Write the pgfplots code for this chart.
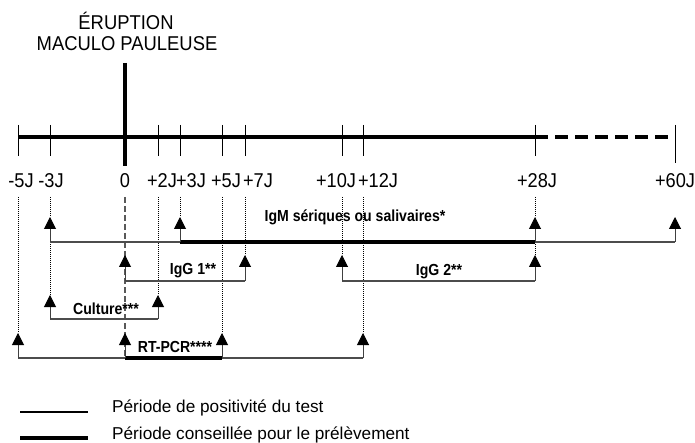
\documentclass[border=0pt]{standalone}
\usepackage{pgfplots}
\pgfplotsset{compat=1.18}
\usepackage{graphicx}
\usepackage{fontspec}
\setmainfont{Liberation Sans}
\usetikzlibrary{arrows.meta}
\tikzset{
  thinl/.style={black!70,line width=1.1pt},
  thickl/.style={black,line width=4pt},
  arr/.style={black!75,line width=1pt,-{Triangle[length=12pt,width=12pt,color=black]}},
  dotl/.style={black,line width=0.8pt,dash pattern=on 0.9pt off 1.1pt},
  tk/.style={black,line width=1pt},
  lab/.style={anchor=base,inner sep=0pt,font=\fontsize{20}{24}\selectfont},
  blab/.style={anchor=base,inner sep=0pt,font=\fontsize{16}{19}\selectfont\bfseries},
  leg/.style={anchor=base west,inner sep=0pt,font=\fontsize{17.2}{20}\selectfont},
}
\begin{document}
\begin{tikzpicture}
\begin{axis}[x=1pt,y=1pt,y dir=reverse,xmin=0,xmax=695,ymin=0,ymax=443,
  hide axis,clip=false,scale only axis]
% frame for bounding box
\addplot[draw=none] coordinates {(0,0) (695,443)};
% main time line
\addplot[thickl] coordinates {(18,137) (535,137)};
\addplot[thickl,dash pattern=on 13pt off 7pt] coordinates {(535,137) (668,137)};
\addplot[thickl] coordinates {(125,63) (125,166)};
% ticks
\addplot[tk] coordinates {(18,125) (18,156)};
\addplot[tk] coordinates {(50,125) (50,156)};
\addplot[tk] coordinates {(158,125) (158,156)};
\addplot[tk] coordinates {(180,125) (180,156)};
\addplot[tk] coordinates {(222,125) (222,156)};
\addplot[tk] coordinates {(245,125) (245,156)};
\addplot[tk] coordinates {(342,125) (342,156)};
\addplot[tk] coordinates {(363,125) (363,156)};
\addplot[tk] coordinates {(535,125) (535,156)};
\addplot[tk] coordinates {(675,125) (675,163)};
% title
\node[lab] at (axis cs:126,30) {\scalebox{0.92}[1]{ÉRUPTION}};
\node[lab] at (axis cs:127,50.5) {\scalebox{0.92}[1]{MACULO PAULEUSE}};
% tick labels
\node[lab] at (axis cs:21,188) {\scalebox{0.91}[1]{-5J}};
\node[lab] at (axis cs:51,188) {\scalebox{0.91}[1]{-3J}};
\node[lab] at (axis cs:125,188) {\scalebox{0.91}[1]{0}};
\node[lab] at (axis cs:162,188) {\scalebox{0.91}[1]{+2J}};
\node[lab] at (axis cs:191,188) {\scalebox{0.91}[1]{+3J}};
\node[lab] at (axis cs:226,188) {\scalebox{0.91}[1]{+5J}};
\node[lab] at (axis cs:258,188) {\scalebox{0.91}[1]{+7J}};
\node[lab] at (axis cs:336,188) {\scalebox{0.91}[1]{+10J}};
\node[lab] at (axis cs:378,188) {\scalebox{0.91}[1]{+12J}};
\node[lab] at (axis cs:537,188) {\scalebox{0.91}[1]{+28J}};
\node[lab] at (axis cs:675,188) {\scalebox{0.91}[1]{+60J}};
% dotted guides
\addplot[dotl] coordinates {(18,197) (18,333)};
\addplot[dotl] coordinates {(50,197) (50,217)};
\addplot[dotl] coordinates {(50,242) (50,295)};
\addplot[dotl] coordinates {(158,197) (158,295)};
\addplot[dotl] coordinates {(180,197) (180,217)};
\addplot[dotl] coordinates {(222,197) (222,333)};
\addplot[dotl] coordinates {(245,197) (245,255)};
\addplot[dotl] coordinates {(342,197) (342,255)};
\addplot[dotl] coordinates {(363,197) (363,333)};
\addplot[dotl] coordinates {(535,197) (535,217)};
\addplot[dotl] coordinates {(535,242) (535,255)};
\addplot[black!65,line width=1.1pt,dash pattern=on 6pt off 3pt] coordinates {(125,197) (125,357)};
% IgM row
\addplot[thinl] coordinates {(50,242) (180,242)};
\addplot[thickl] coordinates {(180,242) (535,242)};
\addplot[thinl] coordinates {(535,242) (675,242)};
\addplot[arr] coordinates {(50,242) (50,217)};
\addplot[arr] coordinates {(180,242) (180,217)};
\addplot[arr] coordinates {(535,242) (535,217)};
\addplot[arr] coordinates {(675,242) (675,217)};
\node[blab] at (axis cs:355,222) {\scalebox{0.88}[1]{IgM sériques ou salivaires*}};
% IgG rows
\addplot[thinl] coordinates {(125,281) (245,281)};
\addplot[arr] coordinates {(125,281) (125,255)};
\addplot[arr] coordinates {(245,281) (245,255)};
\node[blab] at (axis cs:193,275) {\scalebox{0.88}[1]{IgG 1**}};
\addplot[thinl] coordinates {(342,281) (535,281)};
\addplot[arr] coordinates {(342,281) (342,255)};
\addplot[arr] coordinates {(535,281) (535,255)};
\node[blab] at (axis cs:439,276) {\scalebox{0.88}[1]{IgG 2**}};
% Culture row
\addplot[thinl] coordinates {(50,319) (158,319)};
\addplot[arr] coordinates {(50,319) (50,295)};
\addplot[arr] coordinates {(158,319) (158,295)};
\node[blab] at (axis cs:106,314) {\scalebox{0.88}[1]{Culture***}};
% RT-PCR row
\addplot[thinl] coordinates {(18,358) (125,358)};
\addplot[thickl] coordinates {(125,358) (222,358)};
\addplot[thinl] coordinates {(222,358) (363,358)};
\addplot[arr] coordinates {(18,358) (18,333)};
\addplot[arr] coordinates {(125,358) (125,333)};
\addplot[arr] coordinates {(222,358) (222,333)};
\addplot[arr] coordinates {(363,358) (363,333)};
\node[blab] at (axis cs:175,352) {\scalebox{0.88}[1]{RT-PCR****}};
% legend
\addplot[black,line width=1.1pt] coordinates {(20,412) (88,412)};
\addplot[black,line width=4.5pt] coordinates {(20,438) (88,438)};
\node[leg] at (axis cs:112,412) {Période de positivité du test};
\node[leg] at (axis cs:112,439) {Période conseillée pour le prélèvement};
\end{axis}
\end{tikzpicture}
\end{document}
